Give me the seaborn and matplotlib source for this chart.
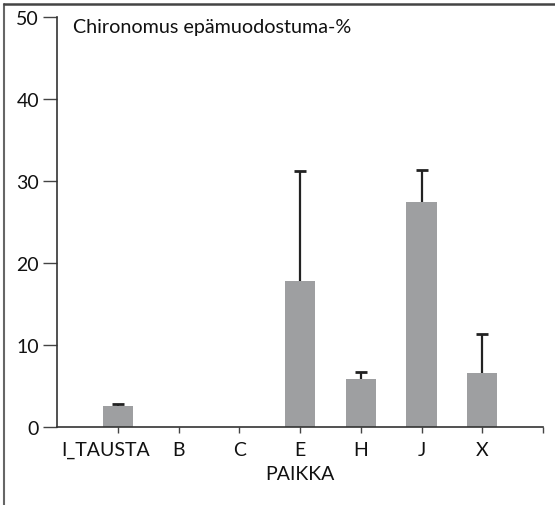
import matplotlib
matplotlib.use("Agg")
import matplotlib.pyplot as plt
import seaborn as sns
import numpy as np
import pandas as pd
from matplotlib.lines import Line2D
import matplotlib.transforms as mtransforms

categories = ["I_TAUSTA", "B", "C", "E", "H", "J", "X"]
means = [2.6, 0.0, 0.0, 17.8, 5.9, 27.5, 6.6]
upper = [2.75, 0.0, 0.0, 31.2, 6.7, 31.4, 11.3]
yticks = [0, 10, 20, 30, 40, 50]

sns.set_style("white")
plt.rcParams['font.family'] = ['Lato', 'DejaVu Sans']

W, H = 555, 506
fig = plt.figure(figsize=(W / 100, H / 100), dpi=100)
ax = fig.add_axes([57 / W, 1 - 428 / H, (543 - 57) / W, (428 - 18) / H])

df = pd.DataFrame({"PAIKKA": categories, "val": means})
sns.barplot(data=df, x="PAIKKA", y="val", order=categories, color="#9e9fa1",
            saturation=1, width=0.5, errorbar=None, ax=ax, edgecolor="none")

x = np.arange(len(categories))
m = np.array(means)
u = np.array(upper)
mask = u > m
ax.vlines(x[mask], m[mask], u[mask], colors="#222222", linewidth=1.6, zorder=3)
ax.plot(x[mask], u[mask], ls="none", marker="_", markersize=8, mew=2,
        color="#222222", zorder=3)

ax.set_xlim(-1, 7)
ax.set_ylim(0, 50)
ax.set_yticks(yticks)
ax.set_yticklabels([str(v) for v in yticks])
ax.set_xticks(list(range(8)))
ax.set_xticklabels(categories + [""])

for s in ["top", "right"]:
    ax.spines[s].set_visible(False)
for s in ["left", "bottom"]:
    ax.spines[s].set_color("#333333")
    ax.spines[s].set_linewidth(1.2)

ax.tick_params(axis="y", which="major", length=10, width=1.0, color="#444444",
               pad=3, labelsize=14, labelcolor="#111111", left=True)
ax.tick_params(axis="x", which="major", length=4, width=1.0, color="#444444",
               pad=6, labelsize=14, labelcolor="#111111", bottom=True)

# shift first label left as in reference
lbl = ax.get_xticklabels()[0]
lbl.set_transform(lbl.get_transform() + mtransforms.ScaledTranslation(-12 / 100, 0, fig.dpi_scale_trans))

ax.set_xlabel("PAIKKA", fontsize=14, color="#111111", labelpad=5)
ax.set_ylabel("")

fig.text(73 / W, 1 - 27 / H, "Chironomus epämuodostuma-%", fontsize=14.2,
         color="#111111", ha="left", va="center")

fig.add_artist(Line2D([4 / W, 4 / W], [0, 1 - 5 / H], color="#666666", lw=1.5,
                      transform=fig.transFigure))
fig.add_artist(Line2D([4 / W, 1], [1 - 5 / H, 1 - 5 / H], color="#444444", lw=1.8,
                      transform=fig.transFigure))

fig.savefig("out.png", dpi=100)
